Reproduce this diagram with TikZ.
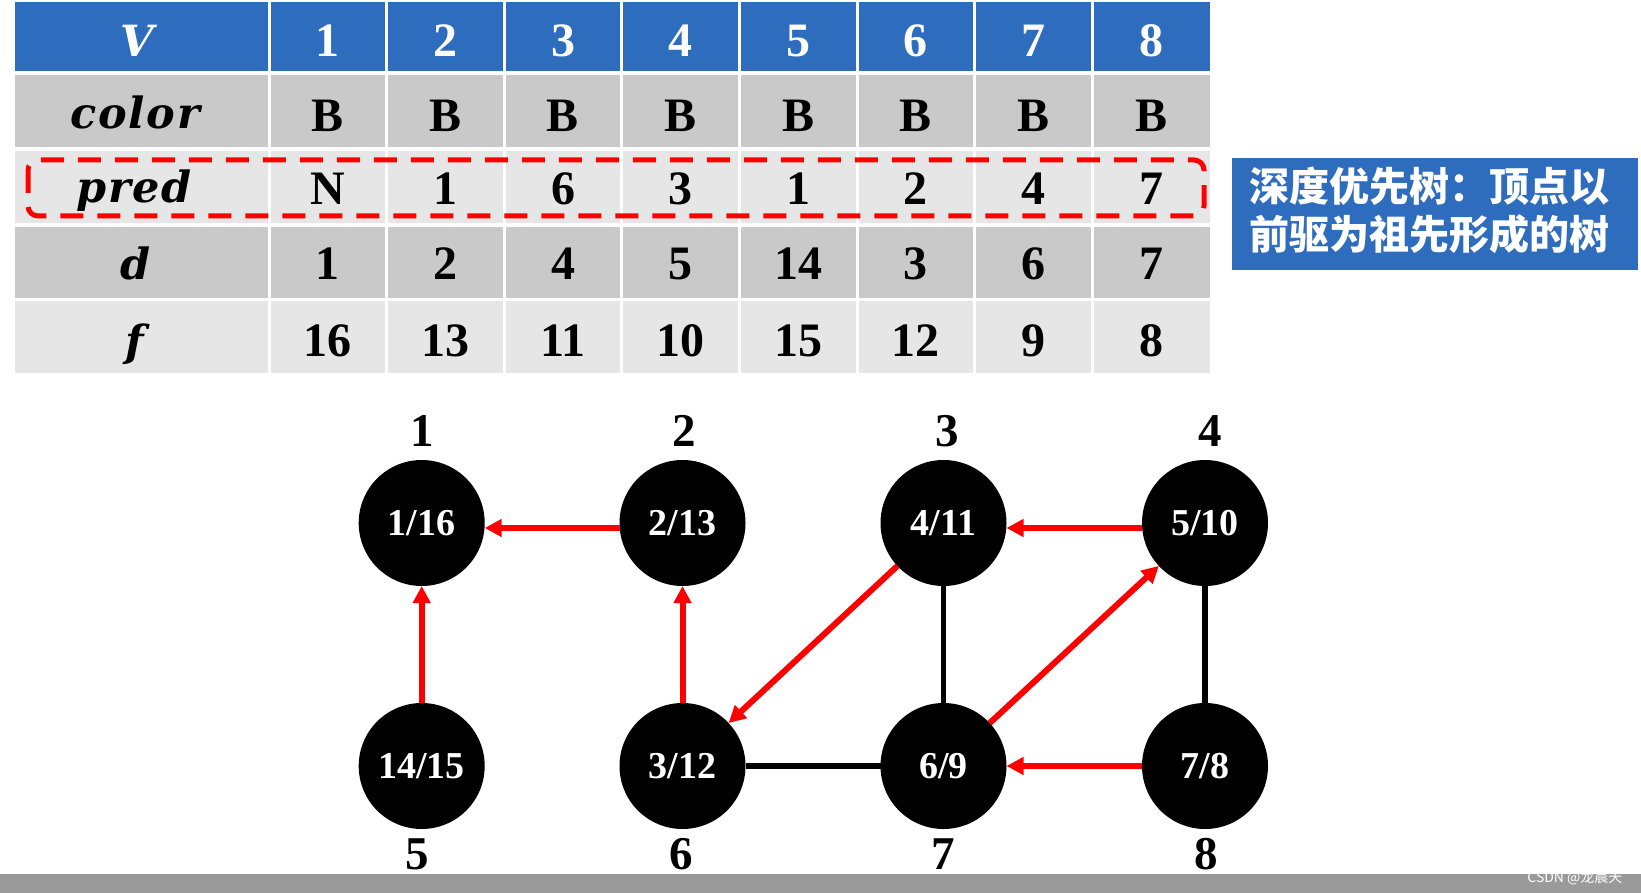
\documentclass[tikz,border=0pt]{standalone}
\usepackage{fontspec}
\setmainfont{Liberation Serif}
\newfontfamily\lblfont{DejaVu Serif}[LetterSpace=4]
\newfontfamily\cjkfont{Noto Sans CJK SC}
\usetikzlibrary{arrows.meta}
\definecolor{hdrblue}{HTML}{2E6DBE}
\definecolor{rowdark}{HTML}{C9C9C9}
\definecolor{rowlight}{HTML}{E6E6E6}
\definecolor{barg}{HTML}{9A9A9A}
\definecolor{arrowred}{HTML}{FF0000}
\begin{document}
\begin{tikzpicture}[x=1pt,y=-1pt,
  cellnum/.style={anchor=base,font=\fontsize{48}{48}\selectfont\bfseries},
  rowlbl/.style={anchor=base,font=\fontsize{43}{43}\selectfont\lblfont\bfseries\itshape},
  vtx/.style={circle,fill=black,minimum size=126pt,inner sep=0pt,outer sep=0pt,text=white,font=\fontsize{38}{38}\selectfont\bfseries},
  vlbl/.style={font=\fontsize{47}{47}\selectfont\bfseries},
  tree/.style={draw=arrowred,line width=6pt,-{Triangle[length=17pt,width=17pt]}},
  plainedge/.style={draw=black,line width=5.5pt},
  cjktext/.style={anchor=base west,text=white,font=\cjkfont\bfseries\fontsize{40}{40}\selectfont},
]
\useasboundingbox (0,0) rectangle (1641,893);
\fill[white] (0,0) rectangle (1641,893);
% table rows
\fill[hdrblue] (14.6,2) rectangle (1210,71);
\fill[rowdark] (14.6,75) rectangle (1210,147);
\fill[rowlight] (14.6,151) rectangle (1210,223);
\fill[rowdark] (14.6,227) rectangle (1210,298);
\fill[rowlight] (14.6,301) rectangle (1210,373);
\foreach \k in {0,...,7} {
  \draw[white,line width=3pt] ({269+117.6*\k},0) -- ({269+117.6*\k},375);
}
% row labels
\node[rowlbl,text=white] (hV) at (137,57) {V};
\node[rowlbl] (hcolor) at (135,129) {color};
\node[rowlbl] (hpred) at (134,203) {pred};
\node[rowlbl] (hd) at (136,280) {d};
\node[rowlbl] (hf) at (135,356) {f};
% header numbers
\foreach \v [count=\i] in {1,2,3,4,5,6,7,8} {
  \node[cellnum,text=white] (h\i) at ({327.8+117.6*(\i-1)},57) {\v};
}
\foreach \v [count=\i] in {B,B,B,B,B,B,B,B} {
  \node[cellnum] (c\i) at ({327.8+117.6*(\i-1)},132) {\v};
}
\foreach \v [count=\i] in {N,1,6,3,1,2,4,7} {
  \node[cellnum] (p\i) at ({327.8+117.6*(\i-1)},205) {\v};
}
\foreach \v [count=\i] in {1,2,4,5,14,3,6,7} {
  \node[cellnum] (d\i) at ({327.8+117.6*(\i-1)},280) {\v};
}
\foreach \v [count=\i] in {16,13,11,10,15,12,9,8} {
  \node[cellnum] (f\i) at ({327.8+117.6*(\i-1)},356) {\v};
}
% dashed highlight
\draw[arrowred,line width=5pt,dash pattern=on 23pt off 14pt,rounded corners=10pt] (28,160) rectangle (1204,216);
% blue note
\fill[hdrblue] (1232,158) rectangle (1638,270);
\node[cjktext] (note1) at (1246,202) {深度优先树：顶点以};
\node[cjktext] (note2) at (1246,250) {前驱为祖先形成的树};
% graph
\node[vtx] (n1) at (421.7,523) {1/16};
\node[vtx] (n2) at (682.5,523) {2/13};
\node[vtx] (n3) at (943.5,523) {4/11};
\node[vtx] (n4) at (1205,523) {5/10};
\node[vtx] (n5) at (421.7,766) {14/15};
\node[vtx] (n6) at (682.5,766) {3/12};
\node[vtx] (n7) at (943.5,766) {6/9};
\node[vtx] (n8) at (1205,766) {7/8};
\node[vlbl] (l1) at (422,431) {1};
\node[vlbl] (l2) at (684,431) {2};
\node[vlbl] (l3) at (947,431) {3};
\node[vlbl] (l4) at (1210,431) {4};
\node[vlbl] (l5) at (417,854) {5};
\node[vlbl] (l6) at (681,854) {6};
\node[vlbl] (l7) at (943,854) {7};
\node[vlbl] (l8) at (1206,854) {8};
\draw[plainedge] (n3) -- (n7);
\draw[plainedge] (n4) -- (n8);
\draw[plainedge] (n6) -- (n7);
\draw[tree] ([yshift=-5pt]n2.west) -- ([yshift=-5pt]n1.east);
\draw[tree] (n5) -- (n1);
\draw[tree] (n6) -- (n2);
\draw[tree] (n3) -- (n6);
\draw[tree] (n7) -- (n4);
\draw[tree] ([yshift=-5pt]n4.west) -- ([yshift=-5pt]n3.east);
\draw[tree] (n8) -- (n7);
% bottom bar
\fill[barg] (0,874) rectangle (1641,893);
\node[anchor=base east,text=white,font=\cjkfont\fontsize{14}{14}\selectfont] (wm) at (1626,882) {CSDN @龙晨天};
\end{tikzpicture}
\end{document}
